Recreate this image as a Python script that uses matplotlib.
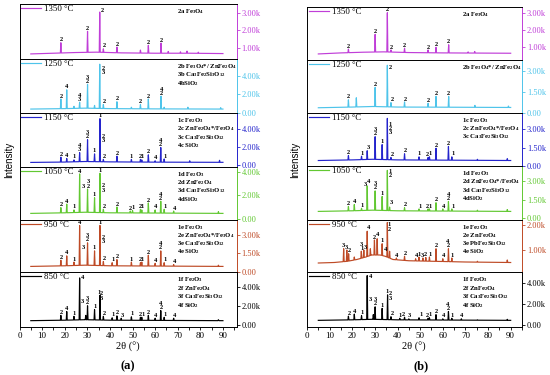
import numpy as np
import matplotlib.pyplot as plt
from matplotlib.ticker import FuncFormatter, MultipleLocator

plt.rcParams['font.family'] = ['Liberation Serif', 'DejaVu Serif']
plt.rcParams['mathtext.fontset'] = 'custom'
plt.rcParams['mathtext.rm'] = 'Liberation Serif'
plt.rcParams['mathtext.bf'] = 'Liberation Serif:bold'
plt.rcParams['mathtext.default'] = 'regular'

temps = ['1350 °C', '1250 °C', '1150 °C', '1050 °C', '950 °C', '850 °C']
colors = ['#C03ED8', '#4EC4EA', '#2424CC', '#62C832', '#BE4A26', 'black']

# intensities in thousands of counts, positions in 2theta (deg)
# ---------------- (a) ----------------
a1350_base = [(5, 0.66), (15, 0.70), (25, 0.74), (34, 0.76), (45, 0.72), (60, 0.70), (75, 0.70), (90, 0.68)]
a1350_peaks = [(18.3, 1.30), (30.1, 1.95), (35.5, 3.05), (37.1, 0.95), (43.1, 1.05), (53.5, 0.88),
               (57.0, 1.15), (62.6, 1.28), (65.8, 0.80), (71.2, 0.78), (74.1, 0.82), (79.1, 0.76)]
a1350_labels = [(18.3, 1.30, '2'), (30.1, 1.95, '2'), (36.6, 2.95, '2'), (37.5, 0.95, '2'),
                (43.1, 1.05, '2'), (57.0, 1.15, '2'), (62.6, 1.28, '2')]

a1250_base = [(5, 0.40), (20, 0.45), (29, 0.50), (40, 0.45), (60, 0.42), (90, 0.40)]
a1250_peaks = [(18.3, 1.5), (20.9, 2.5), (24.1, 0.7), (26.6, 1.15), (30.1, 3.1), (33.2, 0.8),
               (35.5, 5.3), (37.1, 0.9), (43.1, 1.2), (49.5, 0.6), (53.5, 0.9), (57.0, 1.5),
               (62.6, 1.8), (64.0, 0.6), (74.5, 0.6), (89.0, 0.55)]
a1250_labels = [(18.3, 1.5, '2'), (20.9, 2.5, '4'), (26.6, 1.15, '4\n3'), (30.1, 3.1, '3\n2'),
                (36.9, 4.1, '2\n3'), (37.6, 0.95, '2'), (43.1, 1.2, '2'), (53.5, 0.9, '2'),
                (57.0, 1.5, '2'), (62.8, 1.8, '4\n2')]

a1150_base = [(5, 0.32), (20, 0.36), (29, 0.42), (40, 0.38), (60, 0.35), (90, 0.33)]
a1150_peaks = [(18.3, 0.9), (20.9, 0.75), (24.1, 0.6), (26.6, 1.4), (30.1, 2.8), (33.2, 1.25),
               (35.6, 5.1), (37.1, 0.65), (43.1, 1.0), (49.5, 0.65), (53.5, 0.65), (54.1, 0.6),
               (57.0, 1.15), (60.0, 0.5), (62.5, 1.95), (64.0, 0.7), (75.3, 0.5), (88.5, 0.55)]
a1150_labels = [(18.3, 0.9, '2'), (20.9, 0.75, '4'), (24.1, 0.6, '1'), (26.6, 1.4, '4\n3'),
                (30.1, 2.8, '3\n2'), (33.2, 1.25, '1'), (35.6, 5.1, '1'), (37.2, 2.4, '2\n3'),
                (37.7, 0.65, '2'), (43.1, 1.0, '2'), (49.5, 0.65, '1'), (53.3, 0.65, '2'),
                (54.4, 0.6, '1'), (57.0, 1.15, '2'), (60.3, 0.5, '4'), (62.5, 1.95, '4\n2'),
                (64.5, 0.7, '1')]

a1050_base = [(5, 0.45), (20, 0.50), (29, 0.55), (40, 0.50), (60, 0.48), (90, 0.45)]
a1050_peaks = [(18.3, 0.95), (20.9, 1.25), (24.1, 0.75), (26.6, 3.85), (30.1, 2.55), (33.2, 1.8),
               (35.6, 3.9), (37.1, 0.8), (43.1, 1.0), (49.0, 0.65), (50.0, 0.7), (53.5, 0.8),
               (54.1, 0.75), (57.0, 1.35), (60.0, 0.75), (62.5, 1.5), (64.0, 0.8), (68.2, 0.65),
               (88.0, 0.6)]
a1050_labels = [(18.3, 0.95, '2'), (20.9, 1.25, '4'), (24.1, 0.75, '1'), (26.6, 3.85, '4'),
                (28.3, 2.55, '3'), (30.3, 2.55, '3\n2'), (33.2, 1.8, '1'), (35.6, 3.9, '1'),
                (37.1, 2.2, '2\n3'), (37.7, 0.8, '2'), (43.1, 1.0, '2'), (49.0, 0.65, '2'),
                (50.2, 0.7, '1'), (53.3, 0.8, '2'), (54.4, 0.75, '1'), (57.0, 1.35, '2'),
                (60.3, 0.75, '4'), (62.5, 1.5, '4\n2'), (64.5, 0.8, '1'), (68.4, 0.65, '4')]

a950_base = [(5, 0.45), (20, 0.50), (29, 0.55), (40, 0.50), (60, 0.48), (90, 0.45)]
a950_peaks = [(18.3, 0.95), (20.9, 1.3), (24.1, 0.8), (26.6, 3.75), (30.1, 2.35), (33.2, 1.7),
              (35.6, 3.75), (37.1, 0.85), (41.0, 0.75), (43.1, 1.0), (49.5, 0.8), (53.5, 0.75),
              (54.1, 0.8), (57.0, 1.35), (60.0, 0.7), (62.5, 1.7), (64.0, 0.75), (68.2, 0.6),
              (88.0, 0.55)]
a950_labels = [(18.3, 0.95, '2'), (20.9, 1.3, '4'), (24.1, 0.8, '1'), (26.6, 3.75, '4'),
               (28.2, 1.75, '3'), (30.2, 2.35, '3\n2'), (33.2, 1.7, '1'), (35.6, 3.75, '1'),
               (37.2, 2.2, '2\n3'), (37.7, 0.85, '2'), (41.2, 0.75, '1'), (43.1, 1.0, '2'),
               (49.5, 0.8, '1'), (53.3, 0.75, '2'), (54.4, 0.8, '1'), (57.0, 1.35, '2'),
               (60.3, 0.7, '4'), (62.5, 1.7, '4\n2'), (64.5, 0.75, '1'), (68.4, 0.6, '4')]

a850_base = [(5, 0.45), (20, 0.50), (29, 0.55), (40, 0.50), (60, 0.48), (90, 0.45)]
a850_peaks = [(18.3, 1.0), (20.9, 1.4), (24.1, 0.9), (26.6, 4.9), (29.3, 1.0), (30.1, 2.0),
              (33.2, 1.6), (35.6, 3.1), (37.1, 0.9), (41.0, 0.75), (43.1, 0.95), (45.0, 0.7),
              (49.5, 0.85), (53.5, 0.8), (54.1, 0.8), (57.0, 1.0), (60.0, 0.7), (62.5, 1.5),
              (64.0, 0.8), (68.2, 0.7), (88.0, 0.55)]
a850_labels = [(18.3, 1.0, '2'), (20.9, 1.4, '4'), (24.1, 0.9, '1'), (27.9, 4.6, '4'),
               (28.0, 2.1, '3'), (30.2, 2.0, '3\n2'), (33.3, 1.6, '1'), (35.1, 3.1, '1'),
               (36.4, 2.5, '2\n3'), (37.6, 0.9, '2'), (41.4, 0.75, '1'), (43.1, 0.95, '2'),
               (45.4, 0.7, '3'), (49.9, 0.85, '1'), (53.3, 0.8, '2'), (54.5, 0.8, '1'),
               (57.1, 1.0, '2'), (60.3, 0.7, '4'), (62.6, 1.5, '4\n2'), (64.6, 0.8, '1'),
               (68.4, 0.7, '4')]

# ---------------- (b) ----------------
b1350_base = [(5, 0.62), (15, 0.68), (25, 0.72), (34, 0.74), (45, 0.70), (60, 0.68), (90, 0.66)]
b1350_peaks = [(18.3, 0.9), (30.1, 1.75), (35.5, 3.0), (37.1, 0.85), (43.1, 0.95), (53.5, 0.85),
               (57.0, 1.0), (62.6, 1.15), (71.2, 0.74), (74.1, 0.76)]
b1350_labels = [(18.3, 0.9, '2'), (30.1, 1.75, '2'), (35.5, 3.0, '2'), (37.4, 0.85, '2'),
                (43.1, 0.95, '2'), (53.6, 0.85, '2'), (57.2, 1.0, '2'), (62.6, 1.15, '2')]

b1250_base = [(5, 0.38), (20, 0.43), (29, 0.47), (40, 0.43), (60, 0.42), (90, 0.40)]
b1250_peaks = [(18.3, 0.95), (21.8, 1.1), (30.1, 1.85), (35.5, 3.45), (37.1, 0.75), (43.1, 0.8),
               (53.5, 0.7), (57.0, 1.2), (62.6, 1.2), (74.2, 0.55), (89.0, 0.5)]
b1250_labels = [(18.3, 0.95, '2'), (30.1, 1.85, '2'), (36.7, 3.1, '2'), (37.5, 0.75, '2'),
                (43.3, 0.8, '2'), (53.6, 0.7, '2'), (57.2, 1.2, '2'), (62.6, 1.2, '2')]

b1150_base = [(5, 0.45), (20, 0.50), (29, 0.55), (40, 0.50), (60, 0.48), (90, 0.45)]
b1150_peaks = [(18.3, 0.85), (24.1, 0.8), (26.6, 1.25), (30.1, 2.4), (33.2, 1.75), (35.5, 3.9),
               (37.1, 0.7), (43.1, 1.0), (49.5, 0.75), (53.5, 0.7), (54.1, 0.75), (57.0, 1.45),
               (62.5, 1.6), (64.0, 0.75), (75.3, 0.55), (88.5, 0.6)]
b1150_labels = [(18.3, 0.85, '2'), (24.4, 0.8, '1'), (27.0, 1.25, '3'), (30.1, 2.4, '3\n2'),
                (33.3, 1.75, '1'), (36.7, 2.5, '1\n2\n3'), (37.6, 0.7, '2'), (43.3, 1.0, '2'),
                (49.6, 0.75, '1'), (53.4, 0.7, '2'), (54.5, 0.75, '1'), (57.3, 1.45, '2'),
                (62.5, 1.6, '2'), (64.5, 0.75, '1')]

b1050_base = [(5, 0.55), (20, 0.60), (29, 0.65), (40, 0.60), (60, 0.58), (90, 0.55)]
b1050_peaks = [(18.3, 0.95), (20.9, 1.1), (24.1, 0.8), (26.6, 2.6), (30.1, 2.2), (33.2, 1.75),
               (35.5, 3.85), (36.5, 0.9), (43.1, 0.85), (49.5, 0.75), (53.5, 0.75), (54.1, 0.75),
               (57.0, 1.25), (60.0, 0.75), (62.5, 1.35), (64.0, 0.75), (75.3, 0.65), (88.5, 0.7)]
b1050_labels = [(18.3, 0.95, '2'), (21.1, 1.1, '4'), (24.3, 0.8, '1'), (25.8, 2.5, '3'),
                (27.1, 2.75, '4'), (30.1, 2.2, '3\n2'), (33.3, 1.75, '1'), (36.7, 3.2, '1\n2'),
                (37.5, 1.0, '3'), (43.3, 0.85, '2'), (50.0, 0.75, '1'), (53.4, 0.75, '2'),
                (54.5, 0.75, '1'), (57.3, 1.25, '2'), (60.3, 0.75, '4'), (62.5, 1.35, '4\n2'),
                (64.5, 0.75, '1')]

b950_base = [(5, 0.48), (12, 0.50), (18, 0.55), (22, 0.62), (26, 0.72), (28.6, 0.80),
             (32.3, 0.80), (34.5, 0.75), (38, 0.62), (45, 0.57), (55, 0.55), (70, 0.52), (90, 0.50)]
b950_peaks = [(16.2, 1.05), (17.6, 1.0), (18.4, 0.85), (20.9, 0.72), (24.0, 0.95), (25.1, 1.0),
              (26.6, 1.75), (28.0, 1.05), (29.8, 1.4), (31.0, 1.45), (33.2, 1.25), (35.5, 2.1),
              (36.5, 0.95), (39.5, 0.68), (43.1, 0.75), (48.0, 0.65), (49.5, 0.72), (51.2, 0.68),
              (52.5, 0.7), (54.1, 0.72), (57.0, 1.05), (60.0, 0.65), (62.5, 1.05), (64.0, 0.68),
              (75.3, 0.55), (88.5, 0.6)]
b950_labels = [(16.1, 1.05, '3'), (17.4, 1.0, '3'), (18.7, 0.85, '2'), (24.2, 0.95, '3\n1'),
               (25.7, 1.0, '3'), (27.1, 1.78, '4'), (29.6, 1.4, '2'), (31.1, 1.5, '4'),
               (33.0, 1.25, '1'), (36.4, 1.72, '1\n2'), (34.9, 0.9, '4'), (39.7, 0.68, '4'),
               (43.4, 0.75, '2'), (48.2, 0.65, '4'), (49.7, 0.72, '1'), (51.2, 0.68, '3'),
               (52.4, 0.7, '2'), (54.3, 0.72, '1'), (57.1, 1.05, '2'), (60.3, 0.65, '4'),
               (62.3, 1.05, '4\n2'), (64.3, 0.68, '1')]

b850_base = [(5, 0.45), (20, 0.50), (29, 0.55), (40, 0.50), (60, 0.48), (90, 0.45)]
b850_peaks = [(18.3, 0.85), (20.9, 1.05), (24.1, 0.9), (26.6, 4.75), (29.3, 1.0), (30.1, 1.75),
              (33.2, 1.6), (35.6, 2.9), (37.1, 0.8), (41.0, 0.65), (43.1, 0.75), (45.0, 0.6),
              (49.5, 0.7), (53.5, 0.65), (54.1, 0.7), (57.0, 1.0), (60.0, 0.6), (62.5, 1.3),
              (64.0, 0.65), (68.2, 0.6), (75.3, 0.5), (88.5, 0.55)]
b850_labels = [(18.6, 0.85, '2'), (21.2, 1.05, '4'), (24.5, 0.9, '1'), (27.9, 4.4, '4'),
               (27.9, 2.2, '3'), (30.1, 1.75, '3\n2'), (33.2, 1.6, '1'), (35.3, 2.9, '1'),
               (36.7, 2.3, '2\n3'), (37.5, 0.8, '2'), (41.2, 0.65, '1'), (42.7, 0.75, '2'),
               (45.3, 0.6, '3'), (50.4, 0.7, '1'), (53.4, 0.65, '2'), (54.5, 0.7, '1'),
               (57.1, 1.0, '2'), (60.3, 0.6, '4'), (62.3, 1.3, '4\n2'), (64.2, 0.65, '1'),
               (68.4, 0.6, '4')]

FE3 = r'Fe$_3$O$_4$'
FE2 = r'Fe$_2$O$_3$'
ZNF = r'ZnFe$_2$O$_4$'
CAF = r'Ca$_3$Fe$_2$Si$_3$O$_{12}$'
SIO = r'SiO$_2$'
PBF = r'PbFe$_2$Si$_3$O$_{12}$'

a_phases = [
    ['2a ' + FE3],
    ['2b ' + FE3 + '*/ ' + ZNF, '3b ' + CAF, '4b' + SIO],
    ['1c ' + FE2, '2c ' + ZNF + '*/' + FE3, '3c ' + CAF, '4c ' + SIO],
    ['1d ' + FE2, '2d ' + ZNF, '3d ' + CAF, '4d' + SIO],
    ['1e ' + FE2, '2e ' + ZNF + '*/' + FE3, '3e ' + CAF, '4e ' + SIO],
    ['1f ' + FE2, '2f ' + ZNF, '3f ' + CAF, '4f ' + SIO],
]
b_phases = [
    ['2a ' + FE3],
    ['2b ' + FE3 + '*/ ' + ZNF],
    ['1c ' + FE2, '2c ' + ZNF + '*/' + FE3, '3c ' + CAF],
    ['1d ' + FE2, '2d ' + ZNF + '*/' + FE3, '3d ' + CAF, '4d' + SIO],
    ['1e ' + FE2, '2e ' + ZNF, '3e ' + PBF, '4e ' + SIO],
    ['1f ' + FE2, '2f ' + ZNF, '3f ' + CAF, '4f ' + SIO],
]

a_data = [(a1350_base, a1350_peaks, a1350_labels), (a1250_base, a1250_peaks, a1250_labels),
          (a1150_base, a1150_peaks, a1150_labels), (a1050_base, a1050_peaks, a1050_labels),
          (a950_base, a950_peaks, a950_labels), (a850_base, a850_peaks, a850_labels)]
b_data = [(b1350_base, b1350_peaks, b1350_labels), (b1250_base, b1250_peaks, b1250_labels),
          (b1150_base, b1150_peaks, b1150_labels), (b1050_base, b1050_peaks, b1050_labels),
          (b950_base, b950_peaks, b950_labels), (b850_base, b850_peaks, b850_labels)]

# axis ranges / ticks (k counts)
a_ylims = [(0.37, 3.51), (-0.03, 5.87), (-0.18, 5.72), (-0.12, 4.45), (0.0, 4.19), (-0.21, 5.52)]
a_ticks = [[1, 2, 3], [0, 2, 4], [0, 2, 4], [0, 2, 4], [0, 1.5, 3], [0, 2, 4]]
b_ylims = [(0.27, 3.33), (0.0, 3.83), (0.0, 4.34), (-0.14, 4.2), (0.12, 2.2), (-0.19, 5.1)]
b_ticks = [[1, 2, 3], [0, 1.5, 3], [0, 1.5, 3], [0, 1.5, 3], [1, 2], [0, 2, 4]]


def trace(base, peaks, w=0.22):
    bx = [p[0] for p in base]
    by = [p[1] for p in base]
    px = np.array([p[0] for p in peaks])
    xs, ys = [], []
    for x, y in base:
        if np.all(np.abs(px - x) > w):
            xs.append(x)
            ys.append(y)
    for x, h in peaks:
        lo, hi = np.interp([x - w, x + w], bx, by)
        xs += [x - w, x, x + w]
        ys += [lo, h, hi]
    order = np.argsort(xs)
    return np.array(xs)[order], np.array(ys)[order]


def kfmt(v, pos):
    if abs(v) < 1e-9:
        return '0.00'
    return '%.2fk' % v


fig = plt.figure(figsize=(5.5, 3.75), dpi=100)
W, H = 550.0, 375.0


def draw_column(left, width, edges, xmax, data, phases, ylims, ticks, text_x):
    axes = []
    for i in range(6):
        top, bot = edges[i], edges[i + 1]
        ax = fig.add_axes([left / W, 1 - bot / H, width / W, (bot - top) / H])
        base, peaks, labels = data[i]
        c = colors[i]
        x, y = trace(base, peaks)
        ax.plot(x, y, color=c, lw=0.85, label=temps[i])
        for lx, ly, t in labels:
            ax.annotate(t, (lx, ly), xytext=(0, 0.3), textcoords='offset points',
                        ha='center', va='bottom', fontsize=4.6, fontweight='bold',
                        linespacing=0.8, annotation_clip=False)
        for j, s in enumerate(phases[i]):
            ax.text(text_x, 0.86 - j * 0.155, s, transform=ax.transAxes, fontsize=4.8,
                    fontweight='bold', va='center', ha='left')
        ax.legend(loc='upper left', bbox_to_anchor=(0, 1.02), frameon=False, fontsize=6.3,
                  handlelength=2.3, handletextpad=0.35, borderaxespad=0.1, borderpad=0.1)
        ax.set_xlim(0, xmax)
        ax.set_ylim(*ylims[i])
        ax.yaxis.tick_right()
        ax.set_yticks(ticks[i])
        ax.yaxis.set_major_formatter(FuncFormatter(kfmt))
        ax.tick_params(axis='y', colors=c, direction='out', length=2, width=0.6,
                       labelsize=6.0, pad=1.5)
        for sp in ax.spines.values():
            sp.set_linewidth(0.7)
        ax.spines['right'].set_color(c)
        if i < 5:
            ax.tick_params(axis='x', bottom=False, labelbottom=False)
        else:
            ax.xaxis.set_major_locator(MultipleLocator(10))
            ax.xaxis.set_minor_locator(MultipleLocator(5))
            ax.tick_params(axis='x', which='both', direction='out', length=2.2, width=0.6,
                           labelsize=6.5, pad=1.5)
        axes.append(ax)
    return axes


draw_column(19.5, 217, [4, 59, 113, 167, 220, 272, 327], 96, a_data, a_phases,
            a_ylims, a_ticks, 0.725)
draw_column(307, 215, [7, 60, 113, 166, 220, 272, 327], 95, b_data, b_phases,
            b_ylims, b_ticks, 0.72)

fig.text(9 / W, 1 - 160 / H, 'Intensity', rotation=90, ha='center', va='center',
         fontsize=7, family=['Liberation Sans', 'DejaVu Sans'])
fig.text(295 / W, 1 - 160 / H, 'Intensity', rotation=90, ha='center', va='center',
         fontsize=7, family=['Liberation Sans', 'DejaVu Sans'])
fig.text(128 / W, 1 - 347 / H, '2θ (°)', ha='center', va='center', fontsize=7.5)
fig.text(414 / W, 1 - 347 / H, '2θ (°)', ha='center', va='center', fontsize=7.5)
fig.text(128 / W, 1 - 366 / H, '(a)', ha='center', va='center', fontsize=9, fontweight='bold')
fig.text(421 / W, 1 - 366 / H, '(b)', ha='center', va='center', fontsize=9, fontweight='bold')

fig.savefig('out.png', dpi=100)
